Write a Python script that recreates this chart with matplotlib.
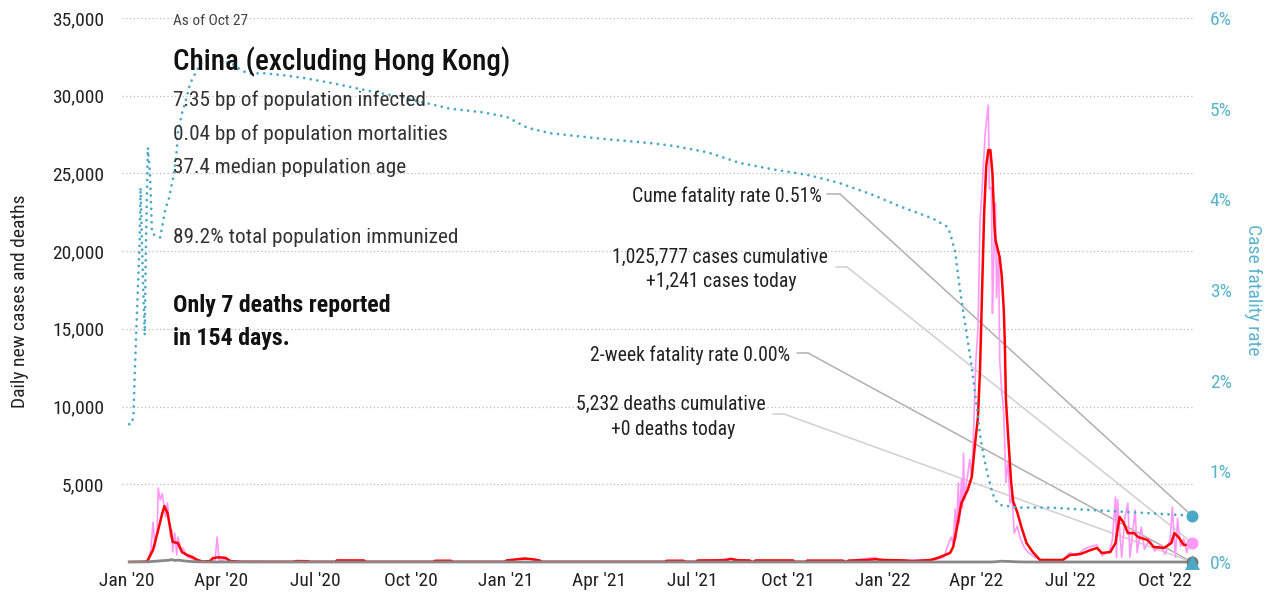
import matplotlib
matplotlib.use('Agg')
import matplotlib.pyplot as plt
import matplotlib.dates as mdates
import matplotlib.ticker as mticker
from matplotlib import font_manager as fm
from matplotlib.patches import ConnectionPatch
import pandas as pd

# ---------------- data (days counted from 2020-01-01) ----------------
START = "2020-01-01"

cfr_day = [2, 4, 6, 8, 10, 12, 13, 15, 17, 18, 20, 22, 24, 27, 32, 37, 40, 44, 46, 48,
           49, 53, 56, 61, 66, 71, 75, 85, 101, 111, 117, 133, 150, 170, 199, 232, 264,
           290, 312, 344, 367, 387, 409, 457, 506, 528, 561, 593, 625, 658, 689, 721,
           748, 779, 793, 796, 799, 801, 804, 807, 812, 817, 822, 825, 828, 832, 837,
           840, 844, 861, 893, 922, 986, 1030]
cfr_pct = [1.52, 1.52, 1.6, 2.3, 2.9, 3.5, 4.13, 3.2, 2.5, 3.4, 4.57, 4.3, 3.63, 3.6,
           3.58, 3.9, 3.99, 4.21, 4.35, 4.54, 4.73, 4.95, 5.06, 5.28, 5.39, 5.5, 5.53,
           5.53, 5.5, 5.42, 5.39, 5.39, 5.37, 5.34, 5.28, 5.2, 5.13, 5.06, 5.0, 4.96,
           4.91, 4.79, 4.73, 4.67, 4.62, 4.59, 4.52, 4.40, 4.33, 4.27, 4.18, 4.05, 3.92,
           3.79, 3.70, 3.63, 3.5, 3.42, 3.14, 2.89, 2.52, 2.15, 1.7, 1.4, 1.2, 0.98,
           0.76, 0.68, 0.63, 0.60, 0.60, 0.58, 0.54, 0.51]

avg_day = [2, 18, 20, 25, 30, 34, 36, 39, 42, 44, 49, 53, 58, 63, 68, 73, 80, 83, 88, 95,
           100, 110, 160, 164, 174, 178, 201, 203, 229, 231, 296, 298, 313, 315, 365, 367,
           378, 385, 392, 399, 401, 520, 522, 538, 540, 550, 552, 578, 584, 590, 602, 604,
           606, 608, 644, 646, 656, 658, 692, 694, 696, 698, 715, 724, 732, 752, 760, 777,
           784, 796, 799, 804, 807, 813, 817, 820, 823, 825, 827, 829, 831, 833, 835, 837,
           839, 840, 844, 846, 848, 849, 850, 852, 855, 857, 861, 865, 870, 876, 883, 905,
           912, 922, 932, 938, 943, 951, 956, 960, 964, 968, 974, 978, 987, 993, 1003,
           1010, 1013, 1017, 1022, 1027, 1030]
avg_cases = [0, 20, 120, 770, 2060, 3150, 3600, 3150, 2060, 1290, 1220, 640, 450, 320, 130,
             30, 60, 250, 300, 270, 60, 20, 15, 60, 50, 15, 15, 100, 100, 15, 15, 80, 80,
             15, 15, 100, 180, 220, 180, 100, 15, 15, 80, 80, 15, 15, 100, 110, 200, 110,
             100, 15, 15, 100, 100, 15, 15, 90, 90, 15, 15, 90, 130, 180, 130, 100, 60,
             130, 260, 580, 970, 2700, 3800, 4630, 5470, 7500, 9330, 12400, 17500, 22500,
             25500, 26500, 26500, 25000, 21560, 20700, 19600, 18400, 16200, 14000, 10500,
             8300, 5200, 3900, 3200, 2250, 1220, 640, 130, 130, 450, 510, 770, 900, 580,
             640, 1220, 2900, 2510, 1860, 1860, 1600, 1420, 970, 900, 1220, 1860, 1600,
             1100, 1100, 1220]

raw_day = [2, 18, 20, 23, 25, 27, 29, 30, 32, 34, 37, 39, 42, 43, 44, 46, 48, 49, 53, 54,
           58, 63, 68, 75, 85, 87, 89, 95, 100, 110, 160, 164, 168, 201, 203, 229, 231,
           296, 298, 313, 315, 365, 378, 385, 401, 520, 522, 538, 550, 584, 604, 656, 658,
           692, 700, 724, 726, 752, 781, 790, 794, 797, 799, 801, 802, 804, 805, 807, 808,
           809, 810, 811, 813, 815, 817, 819, 821, 823, 825, 827, 830, 833, 834, 836, 837,
           838, 840, 841, 843, 844, 846, 848, 850, 852, 854, 856, 858, 861, 864, 868, 872,
           878, 885, 905, 912, 918, 925, 932, 938, 943, 950, 953, 956, 957, 958, 962, 965,
           968, 970, 975, 977, 981, 984, 989, 994, 999, 1004, 1009, 1011, 1014, 1016, 1019,
           1022, 1025, 1028, 1030]
raw_cases = [0, 20, 100, 800, 2570, 1000, 2000, 4760, 4000, 4400, 2900, 3800, 1600, 2060,
             640, 1870, 450, 1600, 580, 900, 320, 200, 60, 30, 100, 1600, 100, 150, 50, 15,
             15, 50, 15, 15, 110, 90, 15, 15, 70, 70, 15, 15, 200, 250, 15, 15, 70, 70, 15,
             220, 15, 15, 80, 80, 90, 300, 100, 100, 150, 300, 1100, 1600, 1200, 3400, 1500,
             5080, 2500, 5300, 3500, 7000, 4000, 4700, 5600, 6600, 5400, 8950, 13000, 15000,
             22000, 24000, 27600, 29400, 24000, 24100, 16000, 19000, 23100, 17000, 20000,
             13000, 11000, 9500, 5100, 6500, 3800, 4200, 1860, 2300, 1500, 900, 600, 300,
             100, 150, 600, 400, 800, 1000, 1100, 400, 700, 1400, 4180, 300, 4000, 300,
             2800, 3800, 300, 3350, 600, 2250, 800, 1500, 700, 1100, 500, 1500, 3540, 300,
             2800, 1000, 1500, 600, 1400, 1241]

death_day = [2, 20, 25, 30, 35, 40, 43, 46, 50, 55, 60, 65, 70, 80, 835, 840, 845, 850,
             855, 860, 870, 1030]
deaths = [0, 10, 40, 60, 90, 110, 150, 100, 120, 70, 40, 20, 10, 0, 0, 15, 50, 40, 30, 10,
          0, 0]

twoweek_cfr_today = 0.00
left_ticks = [5000, 10000, 15000, 20000, 25000, 30000, 35000]
right_ticks = [0, 1, 2, 3, 4, 5, 6]

stats_lines = ["7.35 bp of population infected",
               "0.04 bp of population mortalities",
               "37.4 median population age"]
immunized = "89.2% total population immunized"
title = "China (excluding Hong Kong)"
as_of = "As of Oct 27"
note = ["Only 7 deaths reported", "in 154 days."]

# ---------------- font selection ----------------
names = {f.name for f in fm.fontManager.ttflist}
family = 'Roboto Condensed' if 'Roboto Condensed' in names else 'Liberation Sans Narrow'
if family not in names:
    family = 'DejaVu Sans'
plt.rcParams['font.family'] = [family, 'DejaVu Sans']
has_medium = any(f.name == family and f.weight in (500, 'medium')
                 for f in fm.fontManager.ttflist)
title_weight = 'medium' if has_medium else 'normal'

# ---------------- helpers ----------------
W, H = 1271, 605
def P(x, y):
    return (x / W, 1 - y / H)

def dates(days):
    return pd.Timestamp(START) + pd.to_timedelta(days, unit='D')

TEAL = '#4aa9c5'
TEAL_TXT = '#5ab3cd'
PINK = '#ff99f5'
RED = '#ff0000'
GRAY = '#888888'
DARK = '#222222'

fig = plt.figure(figsize=(W / 100, H / 100), dpi=100)
ax = fig.add_axes([122 / W, 1 - 562 / H, (1193 - 122) / W, (562 - 18) / H])
ax2 = ax.twinx()

ax.set_xlim(pd.Timestamp('2019-12-27'), pd.Timestamp('2022-10-28'))
ax.set_ylim(0, 35000)
ax2.set_ylim(0, 6)
ax.autoscale(False)
ax2.autoscale(False)

for a in (ax, ax2):
    for s in a.spines.values():
        s.set_visible(False)

ax.set_yticks(left_ticks)
ax.yaxis.set_major_formatter(mticker.FuncFormatter(lambda v, p: f"{int(v):,}"))
ax.tick_params(axis='y', length=0, pad=13, labelsize=14, labelcolor=DARK)
ax.yaxis.grid(True, linestyle=(0, (1, 2)), color='#bbbbbb', linewidth=0.9)
ax.set_axisbelow(True)

ax.xaxis.set_major_locator(mdates.MonthLocator(bymonth=[1, 4, 7, 10]))
ax.xaxis.set_major_formatter(mdates.DateFormatter("%b '%y"))
ax.tick_params(axis='x', length=0, pad=7, labelsize=14, labelcolor=DARK)

ax2.set_yticks(right_ticks)
ax2.yaxis.set_major_formatter(mticker.FuncFormatter(lambda v, p: f"{int(v)}%"))
ax2.tick_params(axis='y', length=0, pad=12, labelsize=14, labelcolor=TEAL_TXT)

# series
ax.plot(dates(raw_day), raw_cases, color=PINK, lw=1.2, zorder=2)
ax.plot(dates(avg_day), avg_cases, color=RED, lw=1.8, zorder=3)
ax.plot(dates(death_day), deaths, color=GRAY, lw=2.0, zorder=4, clip_on=False)
ax2.plot(dates(cfr_day), cfr_pct, color=TEAL, lw=2.0, linestyle=(0, (0.01, 2.4)),
         dash_capstyle='round', zorder=3)

end = dates([raw_day[-1]])[0]
ax.scatter([end], [raw_cases[-1]], s=75, color=PINK, zorder=6, clip_on=False, linewidths=0)
ax.scatter([end], [deaths[-1]], s=75, color='#777777', zorder=6, clip_on=False, linewidths=0)
ax2.scatter([end], [cfr_pct[-1]], s=75, color=TEAL, zorder=6, clip_on=False, linewidths=0)
ax2.scatter([end], [twoweek_cfr_today], s=115, marker='^', color=TEAL, zorder=7,
            clip_on=False, linewidths=0)

# leader lines
def leader(x0, x1, y, target_ax, ty, color):
    c1 = ConnectionPatch(xyA=P(x0, y), coordsA='figure fraction', xyB=P(x1, y),
                         coordsB='figure fraction', color=color, lw=1.1, zorder=1)
    c2 = ConnectionPatch(xyA=P(x1, y), coordsA='figure fraction',
                         xyB=(mdates.date2num(end), ty), coordsB=target_ax.transData,
                         color=color, lw=1.1, zorder=1)
    ax.add_artist(c1)
    ax.add_artist(c2)

leader(827, 840, 194, ax2, cfr_pct[-1], '#b0b0b0')
leader(836, 847, 267, ax, raw_cases[-1], '#d0d0d0')
leader(797, 808, 353, ax2, twoweek_cfr_today, '#b0b0b0')
leader(773, 784, 414, ax, deaths[-1], '#d0d0d0')

# annotation texts
AS = 14.2
fig.text(*P(822, 202), f"Cume fatality rate {cfr_pct[-1]:.2f}%", ha='right', va='baseline',
         fontsize=AS, color=DARK)
fig.text(*P(720, 263), "1,025,777 cases cumulative", ha='center', va='baseline',
         fontsize=AS, color=DARK)
fig.text(*P(721, 287), f"+{raw_cases[-1]:,} cases today", ha='center', va='baseline',
         fontsize=AS, color=DARK)
fig.text(*P(790, 361), f"2-week fatality rate {twoweek_cfr_today:.2f}%", ha='right',
         va='baseline', fontsize=AS, color=DARK)
fig.text(*P(671, 410), "5,232 deaths cumulative", ha='center', va='baseline',
         fontsize=AS, color=DARK)
fig.text(*P(673, 435), f"+{deaths[-1]} deaths today", ha='center', va='baseline',
         fontsize=AS, color=DARK)

# header block
fig.text(*P(173, 25), as_of, ha='left', va='baseline', fontsize=11.1, color='#444444')
fig.text(*P(173, 70), title, ha='left', va='baseline', fontsize=21.0, color='#111111',
         fontweight=title_weight)
for txt, yb in zip(stats_lines, [106, 140, 173]):
    fig.text(*P(173, yb), txt, ha='left', va='baseline', fontsize=15.3, color='#333333')
fig.text(*P(173, 243), immunized, ha='left', va='baseline', fontsize=15.3, color='#333333')
for txt, yb in zip(note, [312, 345]):
    fig.text(*P(173, yb), txt, ha='left', va='baseline', fontsize=17.2,
             fontweight='bold', color='#111111')

fig.text(*P(20, 301), "Daily new cases and deaths", rotation=90, ha='center', va='center',
         fontsize=14, color=DARK)
fig.text(*P(1253, 290), "Case fatality rate", rotation=270, ha='center', va='center',
         fontsize=14, color=TEAL_TXT)

fig.savefig('out.png', dpi=100)
